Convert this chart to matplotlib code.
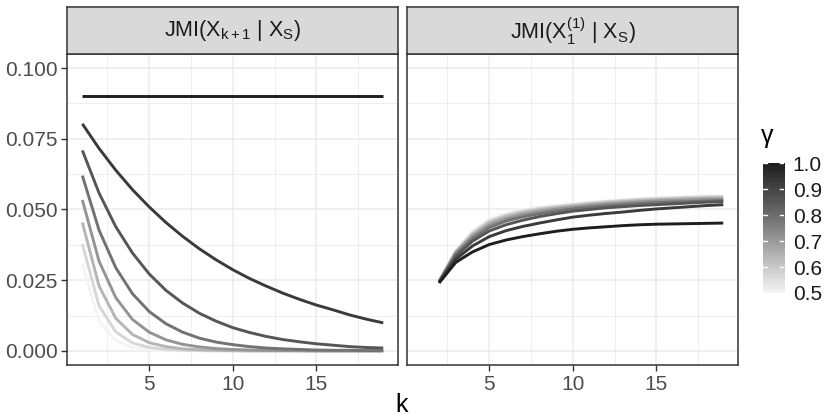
import numpy as np
import matplotlib
matplotlib.use('Agg')
import matplotlib.pyplot as plt
from matplotlib.colors import LinearSegmentedColormap

plt.rcParams['font.family'] = ['Liberation Sans', 'DejaVu Sans']
plt.rcParams['mathtext.fontset'] = 'custom'
plt.rcParams['mathtext.rm'] = 'Liberation Sans'
plt.rcParams['mathtext.it'] = 'Liberation Sans'
plt.rcParams['mathtext.sf'] = 'Liberation Sans'

# gamma values, one curve per value in each panel
gammas = [0.5, 0.571, 0.643, 0.714, 0.786, 0.857, 0.929, 1.0]

# left panel: JMI(X_{k+1} | X_S), k = 1..19
k_left = list(range(1, 20))
jmi_next = {
    0.5:   [0.0307, 0.0105, 0.0036, 0.0012, 0.0004, 0.0001, 0, 0, 0, 0, 0, 0, 0, 0, 0, 0, 0, 0, 0],
    0.571: [0.0378, 0.0159, 0.0067, 0.0028, 0.0012, 0.0005, 0.0002, 0.0001, 0, 0, 0, 0, 0, 0, 0, 0, 0, 0, 0],
    0.643: [0.0454, 0.0229, 0.0115, 0.0058, 0.0029, 0.0015, 0.0007, 0.0004, 0.0002, 0.0001,
            0, 0, 0, 0, 0, 0, 0, 0, 0],
    0.714: [0.0534, 0.0317, 0.0188, 0.0111, 0.0066, 0.0039, 0.0023, 0.0014, 0.0008, 0.0005,
            0.0003, 0.0002, 0.0001, 0.0001, 0, 0, 0, 0, 0],
    0.786: [0.0620, 0.0427, 0.0294, 0.0202, 0.0139, 0.0096, 0.0066, 0.0045, 0.0031, 0.0022,
            0.0015, 0.0010, 0.0007, 0.0005, 0.0003, 0.0002, 0.0002, 0.0001, 0.0001],
    0.857: [0.0709, 0.0558, 0.0439, 0.0346, 0.0272, 0.0214, 0.0169, 0.0133, 0.0105, 0.0082,
            0.0065, 0.0051, 0.0040, 0.0032, 0.0025, 0.0020, 0.0015, 0.0012, 0.0010],
    0.929: [0.0803, 0.0716, 0.0639, 0.0570, 0.0509, 0.0454, 0.0405, 0.0361, 0.0322, 0.0287,
            0.0256, 0.0229, 0.0204, 0.0182, 0.0162, 0.0145, 0.0127, 0.0112, 0.0099],
    1.0:   [0.09] * 19,
}

# right panel: JMI(X_1^(1) | X_S), k = 2..19
k_right = list(range(2, 20))
jmi_first = {
    0.5:   [0.0248, 0.0356, 0.0423, 0.0466, 0.0486, 0.0499, 0.0508, 0.0515, 0.0520,
            0.0526, 0.0531, 0.0535, 0.0539, 0.0542, 0.0544, 0.0546, 0.0548, 0.0549],
    0.571: [0.0247, 0.0353, 0.0418, 0.0460, 0.0481, 0.0495, 0.0504, 0.0511, 0.0517,
            0.0523, 0.0528, 0.0532, 0.0536, 0.0539, 0.0541, 0.0543, 0.0545, 0.0546],
    0.643: [0.0246, 0.0350, 0.0412, 0.0453, 0.0475, 0.0489, 0.0499, 0.0507, 0.0513,
            0.0519, 0.0524, 0.0528, 0.0532, 0.0535, 0.0537, 0.0539, 0.0541, 0.0542],
    0.714: [0.0245, 0.0346, 0.0405, 0.0445, 0.0467, 0.0482, 0.0493, 0.0501, 0.0508,
            0.0514, 0.0519, 0.0523, 0.0527, 0.0530, 0.0532, 0.0534, 0.0536, 0.0537],
    0.786: [0.0244, 0.0341, 0.0397, 0.0436, 0.0459, 0.0474, 0.0485, 0.0494, 0.0502,
            0.0508, 0.0513, 0.0517, 0.0521, 0.0524, 0.0526, 0.0528, 0.0530, 0.0532],
    0.857: [0.0243, 0.0334, 0.0388, 0.0424, 0.0446, 0.0462, 0.0475, 0.0485, 0.0494,
            0.0500, 0.0506, 0.0510, 0.0514, 0.0517, 0.0520, 0.0523, 0.0526, 0.0528],
    0.929: [0.0242, 0.0324, 0.0371, 0.0404, 0.0425, 0.0440, 0.0452, 0.0463, 0.0473,
            0.0480, 0.0486, 0.0491, 0.0497, 0.0502, 0.0506, 0.0510, 0.0514, 0.0517],
    1.0:   [0.0240, 0.0313, 0.0350, 0.0376, 0.0392, 0.0404, 0.0414, 0.0423, 0.0430,
            0.0435, 0.0439, 0.0443, 0.0446, 0.0448, 0.0449, 0.0450, 0.0451, 0.0452],
}

strip_titles = [r'JMI(X$_{k+1}$ | X$_S$)', r'JMI(X$_1^{(1)}$ | X$_S$)']
y_ticks = [0.0, 0.025, 0.05, 0.075, 0.1]
y_ticklabels = ['0.000', '0.025', '0.050', '0.075', '0.100']
x_ticks = [5, 10, 15]
cbar_ticks = [0.5, 0.6, 0.7, 0.8, 0.9, 1.0]

# white -> near black grey ramp for gamma
cmap = LinearSegmentedColormap.from_list(
    'greys_gamma',
    [(0.0, '#f4f4f4'), (0.2, '#c9c9c9'), (0.4, '#9a9a9a'),
     (0.6, '#6c6c6c'), (0.8, '#454545'), (1.0, '#1e1e1e')])
g_lo, g_hi = 0.5, 1.0


def gcol(g):
    return cmap((g - g_lo) / (g_hi - g_lo))


W, H = 835, 419
fig = plt.figure(figsize=(W / 100, H / 100), dpi=100)


def fbox(x0, y0, x1, y1):
    # pixel box (top-left origin) -> figure fraction rect
    return [x0 / W, 1 - y1 / H, (x1 - x0) / W, (y1 - y0) / H]


panels = [(67.3, 398.3), (407.3, 738.3)]
datasets = [(k_left, jmi_next), (k_right, jmi_first)]

for i, ((x0, x1), (ks, data)) in enumerate(zip(panels, datasets)):
    ax = fig.add_axes(fbox(x0, 54, x1, 365))
    ax.set_xlim(0.1, 19.9)
    ax.set_ylim(-0.005, 0.105)
    ax.set_xticks(x_ticks)
    ax.set_xticks([2.5, 7.5, 12.5, 17.5], minor=True)
    ax.set_yticks(y_ticks)
    ax.set_yticks([0.0125, 0.0375, 0.0625, 0.0875], minor=True)
    ax.grid(which='major', color='#ebebeb', lw=1.1)
    ax.grid(which='minor', color='#ebebeb', lw=0.6)
    ax.set_axisbelow(True)
    for s in ax.spines.values():
        s.set_color('#333333')
        s.set_linewidth(1.1)
    ax.tick_params(which='minor', length=0)
    ax.tick_params(which='major', color='#333333', length=4, width=1.0,
                   labelcolor='#4d4d4d', labelsize=15, pad=3)
    if i == 0:
        ax.set_yticklabels(y_ticklabels)
    else:
        ax.tick_params(axis='y', which='major', length=0, labelleft=False)

    for g in gammas:
        ax.plot(ks, data[g], color=gcol(g), lw=2.1, solid_capstyle='butt')

    # facet strip
    sx = fig.add_axes(fbox(x0, 7.3, x1, 54))
    sx.set_facecolor('#d9d9d9')
    sx.set_xticks([])
    sx.set_yticks([])
    for s in sx.spines.values():
        s.set_color('#333333')
        s.set_linewidth(1.1)
    sx.text(0.5, 0.5, strip_titles[i], ha='center', va='center',
            fontsize=15.5, color='#1a1a1a', transform=sx.transAxes)

fig.text(402 / W, 1 - 405 / H, 'k', ha='center', va='center', fontsize=18)

# colour bar for gamma
cb = fig.add_axes(fbox(762.7, 163.3, 784.3, 293))
grad = np.linspace(g_lo, g_hi, 300).reshape(-1, 1)
cb.imshow(grad, cmap=cmap, vmin=g_lo, vmax=g_hi, aspect='auto', origin='lower',
          extent=(0, 1, g_lo, g_hi))
cb.set_xlim(0, 1)
cb.set_ylim(g_lo, g_hi)
for s in cb.spines.values():
    s.set_visible(False)
cb.set_xticks([])
cb.yaxis.tick_right()
cb.set_yticks(cbar_ticks)
cb.set_yticklabels([f'{t:.1f}' for t in cbar_ticks])
cb.tick_params(axis='y', length=0, pad=6, labelsize=15, labelcolor='#1a1a1a')
for t in cbar_ticks:
    cb.plot([0, 0.2], [t, t], color='white', lw=1.0)
    cb.plot([0.8, 1], [t, t], color='white', lw=1.0)
fig.text(767 / W, 1 - 143 / H, 'γ', ha='center', va='baseline', fontsize=18)

fig.savefig('out.png', dpi=100)
